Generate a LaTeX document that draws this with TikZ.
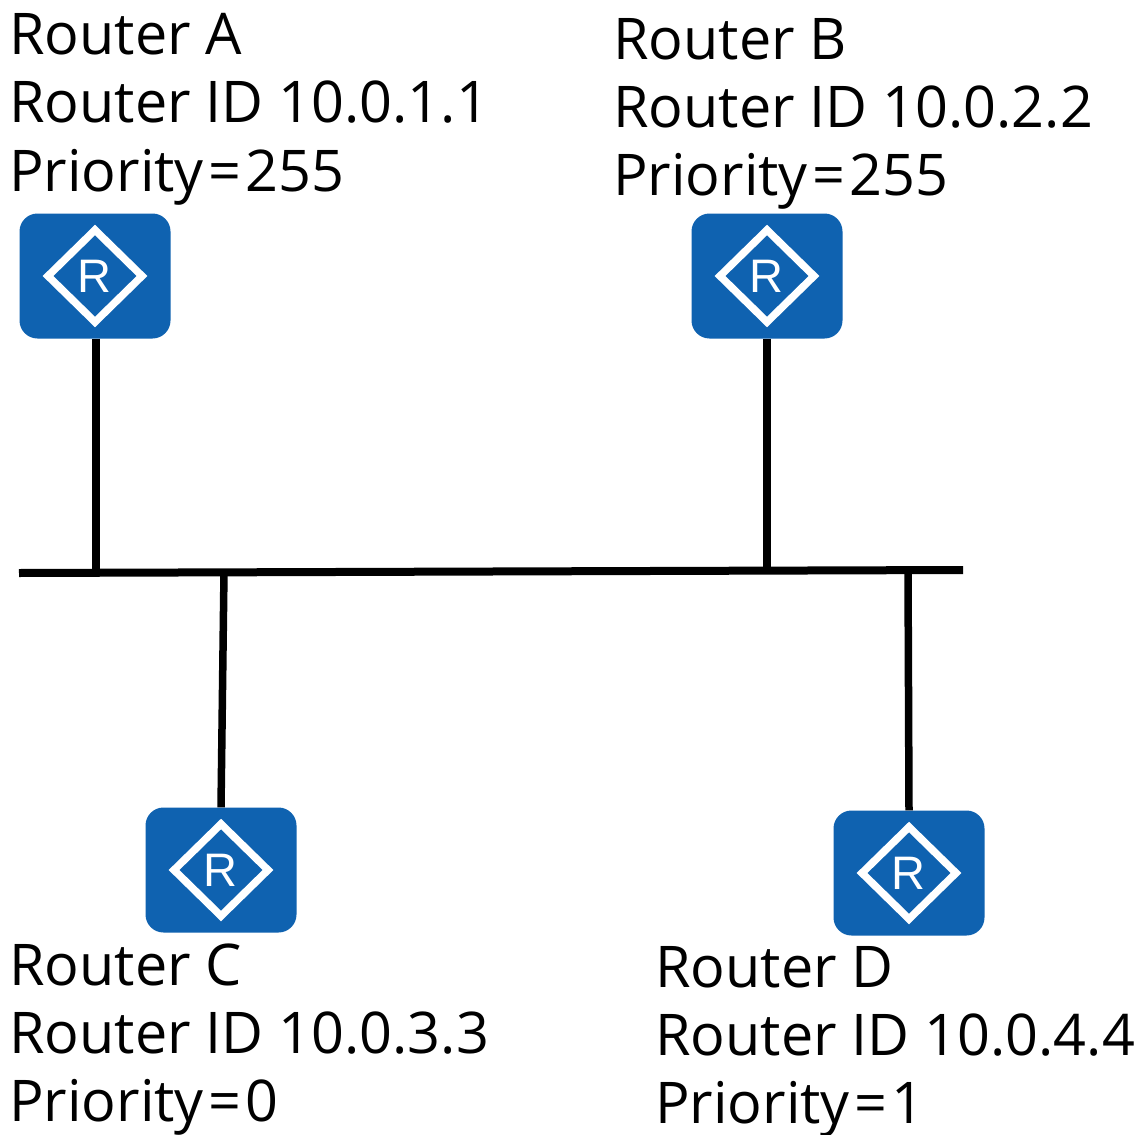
\documentclass[tikz,border=0pt]{standalone}
\usepackage{fontspec}
\setmainfont{Open Sans}
\newfontfamily\iconfont{Liberation Sans}
\definecolor{rblue}{HTML}{0F62B0}
\newcommand{\eqsign}{\kern4.5pt=\kern4.5pt}
\tikzset{
  px/.style={x=1pt,y=-1pt},
  lbl/.style={anchor=base west,inner sep=0pt,font=\fontsize{57.5}{57.5}\selectfont,text=black},
  wire/.style={line width=8pt,black},
  thinwire/.style={line width=7.5pt,black},
  box/.style={fill=rblue,rounded corners=18pt,draw=none,minimum width=151pt,minimum height=125pt,inner sep=0pt},
}
\newcommand{\routericon}[3]{%
  \node[box] (#1) at (#2,#3) {};
  \draw[white,line width=7.5pt,miter limit=10] (#2,#3-46) -- (#2+47,#3) -- (#2,#3+46) -- (#2-47,#3) -- cycle;
  \node[inner sep=0pt,text=white,font=\iconfont\fontsize{47}{47}\selectfont] at (#2-1,#3) {R};
}
\begin{document}
\begin{tikzpicture}[px]
\useasboundingbox (0,0) rectangle (1142,1134);
\fill[white] (0,0) rectangle (1142,1134);
\routericon{a}{95}{276}
\routericon{b}{767}{276}
\routericon{c}{221}{870}
\routericon{d}{909}{873}
\coordinate (busl) at (19,573);
\coordinate (busr) at (963,570);
\draw[wire] (busl) -- (busr);
\coordinate (ja) at (96,572);
\coordinate (jb) at (767,570);
\coordinate (jc) at (224,572);
\coordinate (jd) at (908,570);
\draw[wire] (a.south -| ja) -- (ja);
\draw[wire] (b.south) -- (jb);
\draw[thinwire] (c.north) -- (jc);
\draw[thinwire] (d.north) -- (jd);
\node[lbl] (la1) at (9,55) {Router A};
\node[lbl] (la2) at (9,123) {Router ID 10.0.1.1};
\node[lbl] (la3) at (9,191) {Priority\eqsign 255};
\node[lbl] (lb1) at (613,60) {Router B};
\node[lbl] (lb2) at (613,128) {Router ID 10.0.2.2};
\node[lbl] (lb3) at (613,196) {Priority\eqsign 255};
\node[lbl] (lc1) at (9,985) {Router C};
\node[lbl] (lc2) at (9,1053) {Router ID 10.0.3.3};
\node[lbl] (lc3) at (9,1121) {Priority\eqsign 0};
\node[lbl] (ld1) at (655,987) {Router D};
\node[lbl] (ld2) at (655,1055) {Router ID 10.0.4.4};
\node[lbl] (ld3) at (655,1123) {Priority\eqsign 1};
\end{tikzpicture}
\end{document}
